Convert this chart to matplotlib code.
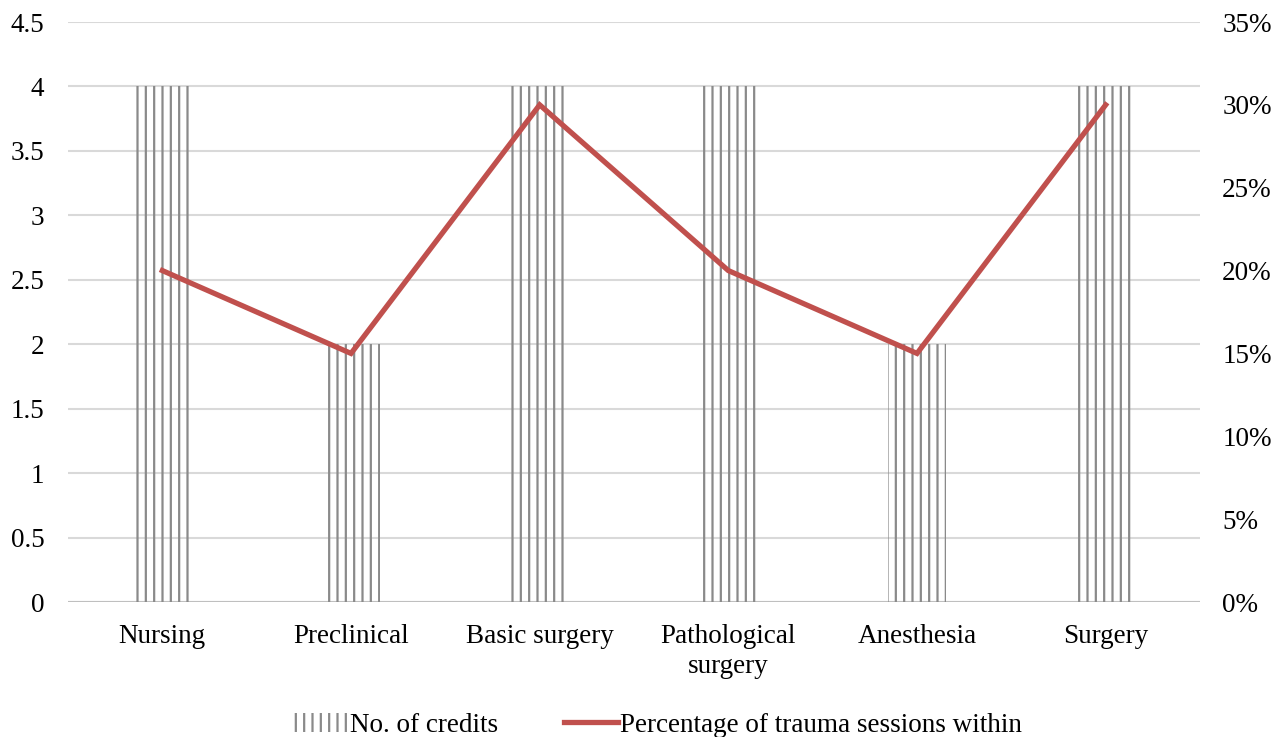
import matplotlib
matplotlib.use("Agg")
import matplotlib.pyplot as plt
from matplotlib.ticker import FuncFormatter, MultipleLocator

categories = ["Nursing", "Preclinical", "Basic surgery", "Pathological\nsurgery", "Anesthesia", "Surgery"]
credits = [4, 2, 4, 4, 2, 4]
trauma_pct = [20, 15, 30, 20, 15, 30]

plt.rcParams["font.family"] = ["Liberation Serif", "DejaVu Serif"]
plt.rcParams["hatch.linewidth"] = 1.6
plt.rcParams["hatch.color"] = "#8a8a8a"

FS = 19.5

fig = plt.figure(figsize=(12.85, 7.37), dpi=100)
ax = fig.add_axes([68 / 1285, 1 - 602 / 737, (1200 - 68) / 1285, 580 / 737])
ax2 = ax.twinx()

x = list(range(len(categories)))
bars = ax.bar(x, credits, width=0.31, facecolor="none", edgecolor="#8a8a8a",
              linewidth=0, hatch="||", label="No. of credits", zorder=2)

ax.set_ylim(0, 4.5)
ax.set_xlim(-0.5, len(categories) - 0.5)
ax.yaxis.set_major_locator(MultipleLocator(0.5))
ax.yaxis.set_major_formatter(FuncFormatter(lambda v, p: f"{v:g}"))
ax.grid(axis="y", color="#d9d9d9", linewidth=1.5, zorder=0)
ax.set_axisbelow(True)
ax.set_xticks(x)
ax.set_xticklabels(categories, fontsize=FS, linespacing=1.25)
ax.tick_params(axis="x", length=0, pad=16)
ax.tick_params(axis="y", length=0, labelsize=FS, pad=17)

line, = ax2.plot(x, trauma_pct, color="#C0504D", linewidth=3.8,
                 label="Percentage of trauma sessions within", zorder=3,
                 solid_joinstyle="miter")
ax2.set_ylim(0, 35)
ax2.yaxis.set_major_locator(MultipleLocator(5))
ax2.yaxis.set_major_formatter(FuncFormatter(lambda v, p: f"{v:.0f}%"))
ax2.tick_params(axis="y", length=0, labelsize=FS, pad=16)

for a in (ax, ax2):
    for s in ("top", "left", "right", "bottom"):
        a.spines[s].set_visible(False)
ax.axhline(0, color="#bfbfbf", linewidth=1.5, zorder=1)

ax.set_zorder(ax2.get_zorder() - 1)
ax2.patch.set_visible(False)

fig.legend([bars, line], ["No. of credits", "Percentage of trauma sessions within"],
           loc="center", bbox_to_anchor=(658 / 1285, 1 - 725 / 737), ncol=2,
           frameon=False, fontsize=FS, handlelength=2.0, handletextpad=0.1,
           columnspacing=2.4)

fig.savefig("out.png", dpi=100)
